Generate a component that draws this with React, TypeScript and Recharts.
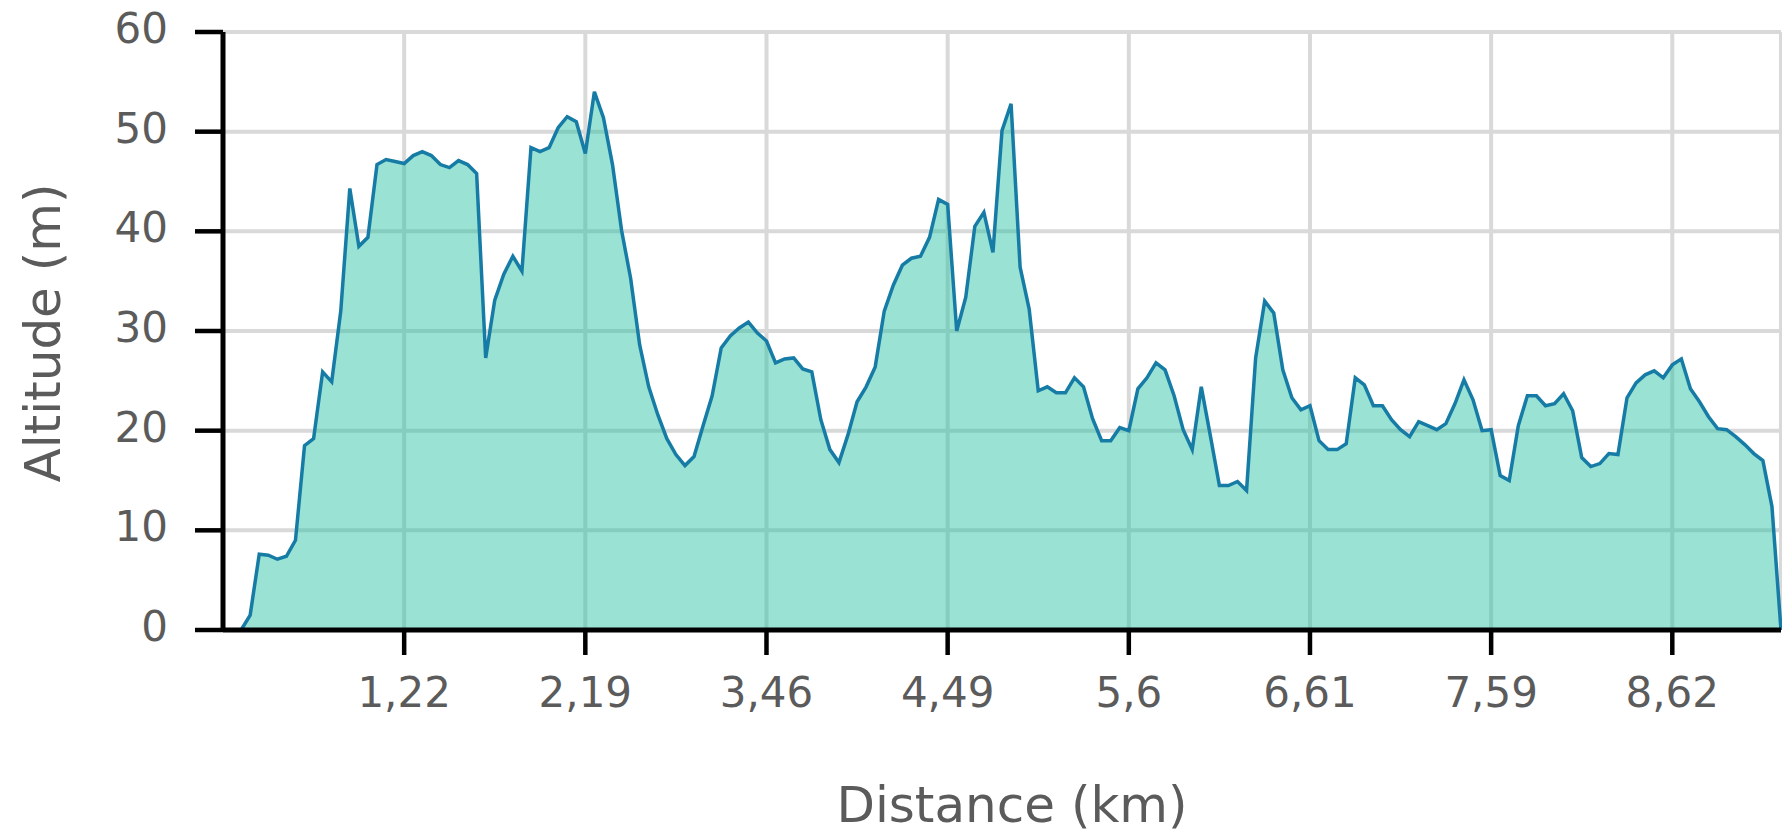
import { AreaChart, Area, XAxis, YAxis, CartesianGrid } from "recharts";

// altitude (m) per track point
const altitude = [
  0, 0, 0, 1.5, 7.6, 7.5, 7.1, 7.4, 9, 18.5,
  19.2, 25.9, 24.9, 32.0, 44.3, 38.5, 39.4, 46.7, 47.2, 47.0,
  46.8, 47.6, 48.0, 47.6, 46.7, 46.4, 47.1, 46.7, 45.8, 27.3,
  33.1, 35.7, 37.5, 36.0, 48.4, 48.0, 48.4, 50.4, 51.5, 51.0,
  47.8, 54.0, 51.4, 46.7, 40.1, 35.3, 28.6, 24.4, 21.6, 19.2,
  17.6, 16.5, 17.4, 20.5, 23.5, 28.3, 29.5, 30.3, 30.9, 29.8,
  29.0, 26.8, 27.2, 27.3, 26.2, 25.9, 21.1, 18.1, 16.8, 19.6,
  22.9, 24.4, 26.4, 32.0, 34.6, 36.6, 37.3, 37.5, 39.4, 43.2,
  42.7, 30.0, 33.4, 40.5, 41.9, 37.9, 50.1, 52.8, 36.4, 32.2,
  24.0, 24.4, 23.8, 23.8, 25.3, 24.4, 21.2, 19.0, 19.0, 20.3,
  20.0, 24.2, 25.3, 26.8, 26.1, 23.5, 20.1, 18.1, 24.4, 19.5,
  14.5, 14.5, 14.9, 14.0, 27.3, 33.0, 31.8, 26.1, 23.3, 22.1,
  22.5, 19.0, 18.1, 18.1, 18.7, 25.3, 24.6, 22.5, 22.5, 21.1,
  20.1, 19.4, 20.9, 20.5, 20.1, 20.7, 22.7, 25.1, 23.1, 20.0,
  20.1, 15.5, 15.0, 20.5, 23.5, 23.5, 22.5, 22.7, 23.7, 22.0,
  17.3, 16.4, 16.7, 17.7, 17.6, 23.3, 24.8, 25.6, 26.0, 25.3,
  26.6, 27.2, 24.2, 22.9, 21.4, 20.2, 20.1, 19.4, 18.6, 17.7,
  17.0, 12.4, 0,
];

// point index of each labelled distance tick
const tickIndex = [20, 40, 60, 80, 100, 120, 140, 160];
const tickLabels = ["1,22", "2,19", "3,46", "4,49", "5,6", "6,61", "7,59", "8,62"];
const yTicks = [0, 10, 20, 30, 40, 50, 60];

const data = altitude.map((alt, idx) => ({ idx, alt }));

const TEXT = "#5b5b5b";
const FONT = "'DejaVu Sans', Verdana, sans-serif";

const XTick = (props: any) => {
  const { x, y, payload } = props;
  return (
    <text x={x} y={y} dy={52} textAnchor="middle" fill={TEXT} fontSize={42} fontFamily={FONT}>
      {tickLabels[tickIndex.indexOf(payload.value)]}
    </text>
  );
};

const YTick = (props: any) => {
  const { x, y, payload } = props;
  return (
    <text x={x} y={y} dy={11} textAnchor="end" fill={TEXT} fontSize={42} fontFamily={FONT}>
      {payload.value}
    </text>
  );
};

const XTitle = () => (
  <text x={1012} y={822} textAnchor="middle" fill={TEXT} fontSize={50} fontFamily={FONT}>
    Distance (km)
  </text>
);

const YTitle = () => (
  <text
    x={43}
    y={333}
    textAnchor="middle"
    dominantBaseline="central"
    transform="rotate(-90, 43, 333)"
    fill={TEXT}
    fontSize={50}
    fontFamily={FONT}
  >
    Altitude (m)
  </text>
);

const App = () => {
  return (
    <div style={{ position: "absolute", left: 0, top: 0, width: 1782, height: 833, fontFamily: FONT }}>
      <AreaChart
        width={1782}
        height={833}
        data={data}
        margin={{ top: 32, right: 1, left: 0, bottom: 0 }}
      >
        <CartesianGrid stroke="#d9d9d9" strokeWidth={4} />
        <XAxis
          dataKey="idx"
          type="number"
          domain={[0, altitude.length - 1]}
          ticks={tickIndex}
          interval={0}
          height={203}
          tickSize={25}
          tickMargin={0}
          tick={XTick}
          axisLine={{ stroke: "#000", strokeWidth: 5 }}
          tickLine={{ stroke: "#000", strokeWidth: 4.5 }}
          label={<XTitle />}
        />
        <YAxis
          domain={[0, 60]}
          ticks={yTicks}
          interval={0}
          width={223}
          tickSize={28}
          tickMargin={27}
          tick={YTick}
          axisLine={{ stroke: "#000", strokeWidth: 5 }}
          tickLine={{ stroke: "#000", strokeWidth: 4.5 }}
          label={<YTitle />}
        />
        <Area
          type="linear"
          dataKey="alt"
          stroke="#167ca6"
          strokeWidth={3.5}
          fill="#1abc9c"
          fillOpacity={0.44}
          isAnimationActive={false}
          dot={false}
          activeDot={false}
        />
      </AreaChart>
    </div>
  );
};

export default App;
